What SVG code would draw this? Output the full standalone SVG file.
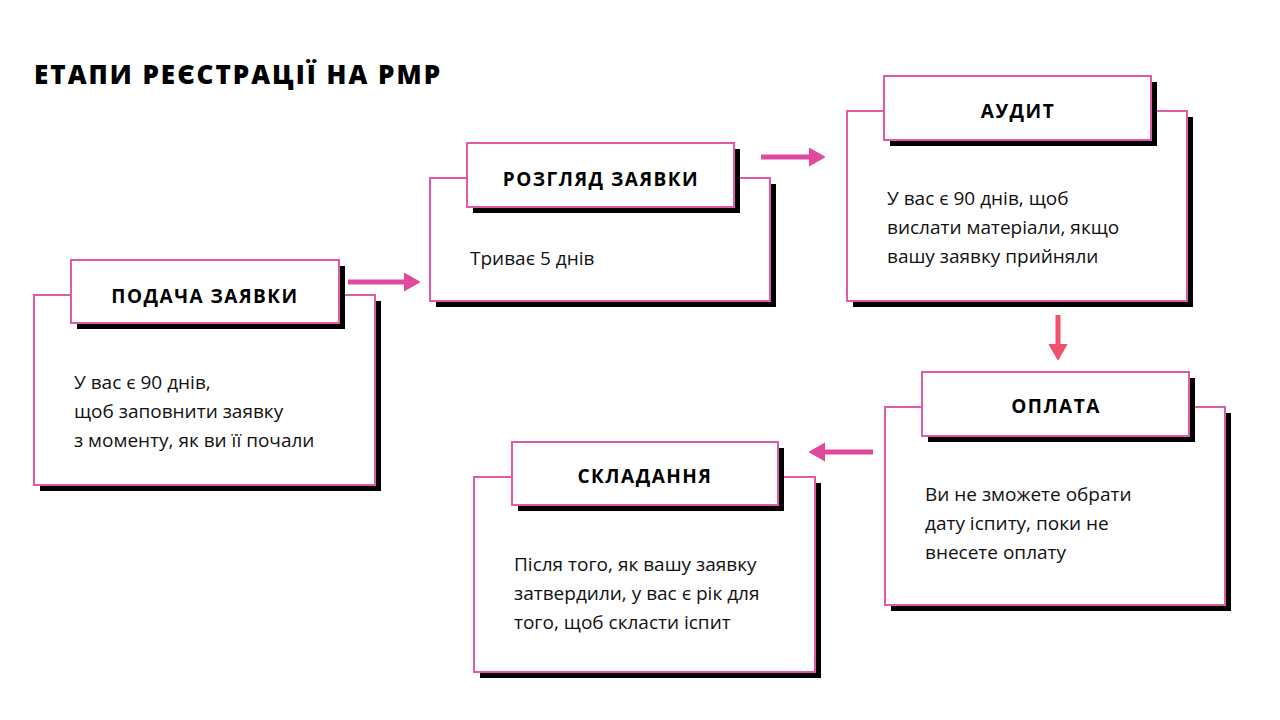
<svg xmlns="http://www.w3.org/2000/svg" width="1280" height="720" viewBox="0 0 1280 720">
<defs>
<style>
.sh{fill:#000}
.bx{fill:#fff;stroke:#e05aa8;stroke-width:2}
.hd{font-family:"Open Sans","DejaVu Sans",sans-serif;font-weight:bold;font-size:19px;letter-spacing:1.5px;text-anchor:middle;fill:#000}
.tx{font-family:"Open Sans","DejaVu Sans",sans-serif;font-size:19px;fill:#111}
.ar{stroke:#e04a9e;stroke-width:5;fill:none}
</style>
<marker id="ah" markerWidth="4" markerHeight="4" refX="2" refY="2" orient="auto" markerUnits="strokeWidth"><path d="M0,0.3 L3,2 L0,3.7 Z" fill="#e04a9e" stroke="#e04a9e" stroke-width="0.4" stroke-linejoin="round"/></marker>
<marker id="ah2" markerWidth="4" markerHeight="4" refX="2" refY="2" orient="auto" markerUnits="strokeWidth"><path d="M0,0.3 L3,2 L0,3.7 Z" fill="#f0506e" stroke="#f0506e" stroke-width="0.4" stroke-linejoin="round"/></marker>
</defs>
<rect width="1280" height="720" fill="#fff"/>
<text x="34" y="84" style="font-family:'Open Sans','DejaVu Sans',sans-serif;font-weight:800;font-size:26px;letter-spacing:2px" fill="#000">ЕТАПИ РЕЄСТРАЦІЇ НА РМР</text>
<g id="connectors">
<line class="ar" x1="348" y1="282" x2="414" y2="282" marker-end="url(#ah)"/>
<line class="ar" x1="761" y1="157" x2="819" y2="157" marker-end="url(#ah)"/>
<line x1="1058" y1="315" x2="1058" y2="354" stroke="#f0506e" stroke-width="5" marker-end="url(#ah2)"/>
<line class="ar" x1="873" y1="452" x2="815" y2="452" marker-end="url(#ah)"/>
</g>
<g id="n1">
<rect class="sh" x="40" y="301" width="341" height="190"/>
<rect class="bx" x="34" y="295" width="341" height="190"/>
<rect class="sh" x="77" y="266" width="268" height="63"/>
<rect class="bx" x="71" y="260" width="268" height="63"/>
<text class="hd" x="205" y="303">ПОДАЧА ЗАЯВКИ</text>
<text class="tx" x="74" y="389">У вас є 90 днів,</text>
<text class="tx" x="74" y="418">щоб заповнити заявку</text>
<text class="tx" x="74" y="447">з моменту, як ви її почали</text>
</g>
<g id="n2">
<rect class="sh" x="436" y="184" width="340" height="123"/>
<rect class="bx" x="430" y="178" width="340" height="123"/>
<rect class="sh" x="473" y="149" width="267" height="64"/>
<rect class="bx" x="467" y="143" width="267" height="64"/>
<text class="hd" x="601" y="186">РОЗГЛЯД ЗАЯВКИ</text>
<text class="tx" x="470" y="265">Триває 5 днів</text>
</g>
<g id="n3">
<rect class="sh" x="853" y="117" width="340" height="190"/>
<rect class="bx" x="847" y="111" width="340" height="190"/>
<rect class="sh" x="890" y="82" width="267" height="64"/>
<rect class="bx" x="884" y="76" width="267" height="64"/>
<text class="hd" x="1018" y="118">АУДИТ</text>
<text class="tx" x="887" y="205">У вас є 90 днів, щоб</text>
<text class="tx" x="887" y="234">вислати матеріали, якщо</text>
<text class="tx" x="887" y="263">вашу заявку прийняли</text>
</g>
<g id="n4">
<rect class="sh" x="891" y="413" width="340" height="198"/>
<rect class="bx" x="885" y="407" width="340" height="198"/>
<rect class="sh" x="928" y="378" width="267" height="64"/>
<rect class="bx" x="922" y="372" width="267" height="64"/>
<text class="hd" x="1056" y="413">ОПЛАТА</text>
<text class="tx" x="925" y="501">Ви не зможете обрати</text>
<text class="tx" x="925" y="530">дату іспиту, поки не</text>
<text class="tx" x="925" y="559">внесете оплату</text>
</g>
<g id="n5">
<rect class="sh" x="480" y="483" width="341" height="195"/>
<rect class="bx" x="474" y="477" width="341" height="195"/>
<rect class="sh" x="518" y="448" width="266" height="63"/>
<rect class="bx" x="512" y="442" width="266" height="63"/>
<text class="hd" x="645" y="483">СКЛАДАННЯ</text>
<text class="tx" x="514" y="571">Після того, як вашу заявку</text>
<text class="tx" x="514" y="600">затвердили, у вас є рік для</text>
<text class="tx" x="514" y="629">того, щоб скласти іспит</text>
</g>
</svg>
